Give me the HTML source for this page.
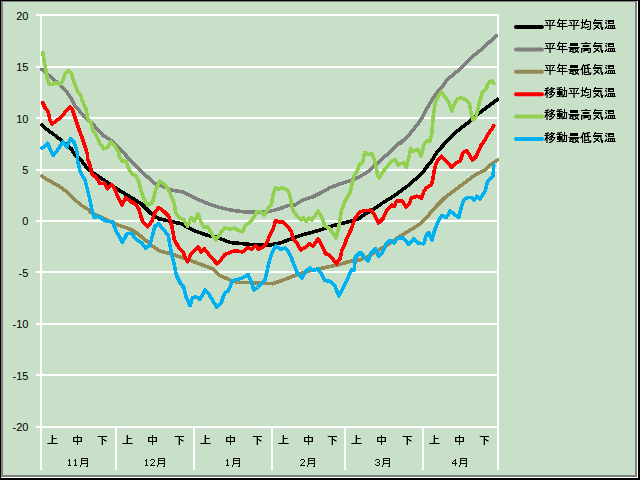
<!DOCTYPE html>
<html><head><meta charset="utf-8"><style>
html,body{margin:0;padding:0;}
body{width:640px;height:480px;overflow:hidden;position:relative;background:#C8DFC8;font-family:"Liberation Sans",sans-serif;}
#c{position:absolute;left:0;top:0;}
</style></head><body>
<svg id="c" width="640" height="480" viewBox="0 0 640 480" shape-rendering="auto">
<rect x="0" y="0" width="640" height="480" fill="#000"/>
<rect x="1" y="1" width="637" height="477" fill="#fff"/>
<rect x="1" y="1" width="636" height="476" fill="#808080"/>
<rect x="3" y="2" width="632" height="473" fill="#C8DFC8"/>
<rect x="36" y="14" width="463" height="2" fill="#fff"/>
<rect x="36" y="66" width="463" height="2" fill="#fff"/>
<rect x="36" y="117" width="463" height="2" fill="#fff"/>
<rect x="36" y="169" width="463" height="2" fill="#fff"/>
<rect x="36" y="220" width="463" height="2" fill="#fff"/>
<rect x="36" y="271" width="463" height="2" fill="#fff"/>
<rect x="36" y="323" width="463" height="2" fill="#fff"/>
<rect x="36" y="374" width="463" height="2" fill="#fff"/>
<rect x="36" y="426" width="463" height="2" fill="#fff"/>
<rect x="40" y="14" width="2" height="456" fill="#fff"/>
<rect x="497" y="14" width="2" height="414" fill="#fff"/>
<rect x="115" y="427" width="2" height="43" fill="#fff"/>
<rect x="193" y="427" width="2" height="43" fill="#fff"/>
<rect x="271" y="427" width="2" height="43" fill="#fff"/>
<rect x="344" y="427" width="2" height="43" fill="#fff"/>
<rect x="422" y="427" width="2" height="43" fill="#fff"/>
<rect x="497" y="427" width="2" height="43" fill="#fff"/>
<text x="28.4" y="20" text-anchor="end" font-family="Liberation Sans" font-size="11" fill="#000">20</text>
<text x="28.4" y="71" text-anchor="end" font-family="Liberation Sans" font-size="11" fill="#000">15</text>
<text x="28.4" y="123" text-anchor="end" font-family="Liberation Sans" font-size="11" fill="#000">10</text>
<text x="28.4" y="174" text-anchor="end" font-family="Liberation Sans" font-size="11" fill="#000">5</text>
<text x="28.4" y="225" text-anchor="end" font-family="Liberation Sans" font-size="11" fill="#000">0</text>
<text x="28.4" y="277" text-anchor="end" font-family="Liberation Sans" font-size="11" fill="#000">-5</text>
<text x="28.4" y="328" text-anchor="end" font-family="Liberation Sans" font-size="11" fill="#000">-10</text>
<text x="28.4" y="380" text-anchor="end" font-family="Liberation Sans" font-size="11" fill="#000">-15</text>
<text x="28.4" y="431" text-anchor="end" font-family="Liberation Sans" font-size="11" fill="#000">-20</text>
<path fill="#000" fill-opacity="1.0" shape-rendering="crispEdges" d="M52 435h1v1h-1zM52 436h1v1h-1zM52 437h1v1h-1zM52 438h4v1h-4zM52 439h1v1h-1zM52 440h1v1h-1zM52 441h1v1h-1zM52 442h1v1h-1zM48 443h9v1h-9z"/><path fill="#000" fill-opacity="0.6" shape-rendering="crispEdges" d="M56 438h1v1h-1zM47 443h1v1h-1zM57 443h1v1h-1z"/><path fill="#000" fill-opacity="0.3" shape-rendering="crispEdges" d="M51 435h1v1h-1zM51 436h1v1h-1zM51 437h1v1h-1zM51 438h1v1h-1zM51 439h1v1h-1zM51 440h1v1h-1zM51 441h1v1h-1zM51 442h1v1h-1z"/>
<path fill="#000" fill-opacity="1.0" shape-rendering="crispEdges" d="M77 435h1v1h-1zM77 436h1v1h-1zM73 437h9v1h-9zM73 438h1v1h-1zM77 438h1v1h-1zM81 438h1v1h-1zM73 439h1v1h-1zM77 439h1v1h-1zM81 439h1v1h-1zM73 440h1v1h-1zM77 440h1v1h-1zM81 440h1v1h-1zM73 441h9v1h-9zM77 442h1v1h-1zM77 443h1v1h-1zM77 444h1v1h-1z"/><path fill="#000" fill-opacity="0.3" shape-rendering="crispEdges" d="M74 438h1v1h-1zM80 438h1v1h-1zM74 439h1v1h-1zM80 439h1v1h-1zM74 440h1v1h-1zM80 440h1v1h-1z"/>
<path fill="#000" fill-opacity="1.0" shape-rendering="crispEdges" d="M98 436h9v1h-9zM102 437h1v1h-1zM102 438h1v1h-1zM102 439h2v1h-2zM102 440h1v1h-1zM104 440h2v1h-2zM102 441h1v1h-1zM102 442h1v1h-1zM102 443h1v1h-1zM102 444h1v1h-1z"/><path fill="#000" fill-opacity="0.6" shape-rendering="crispEdges" d="M104 439h1v1h-1z"/><path fill="#000" fill-opacity="0.3" shape-rendering="crispEdges" d="M97 436h1v1h-1zM101 437h1v1h-1zM101 438h1v1h-1zM101 439h1v1h-1zM101 440h1v1h-1zM106 440h1v1h-1zM101 441h1v1h-1zM105 441h2v1h-2zM101 442h1v1h-1zM101 443h1v1h-1zM101 444h1v1h-1z"/>
<path fill="#000" fill-opacity="0.92" shape-rendering="crispEdges" d="M69 459h1v1h-1zM68 460h2v1h-2zM69 461h1v1h-1zM69 462h1v1h-1zM69 463h1v1h-1zM69 464h1v1h-1zM68 465h3v1h-3zM75 459h1v1h-1zM74 460h2v1h-2zM75 461h1v1h-1zM75 462h1v1h-1zM75 463h1v1h-1zM75 464h1v1h-1zM74 465h3v1h-3zM81 458h7v1h-7zM81 459h1v1h-1zM87 459h1v1h-1zM81 460h7v1h-7zM81 461h1v1h-1zM87 461h1v1h-1zM81 462h1v1h-1zM87 462h1v1h-1zM81 463h7v1h-7zM81 464h1v1h-1zM87 464h1v1h-1zM80 465h1v1h-1zM87 465h1v1h-1zM80 466h1v1h-1zM86 466h2v1h-2z"/>
<path fill="#000" fill-opacity="1.0" shape-rendering="crispEdges" d="M127 435h1v1h-1zM127 436h1v1h-1zM127 437h1v1h-1zM127 438h4v1h-4zM127 439h1v1h-1zM127 440h1v1h-1zM127 441h1v1h-1zM127 442h1v1h-1zM123 443h9v1h-9z"/><path fill="#000" fill-opacity="0.6" shape-rendering="crispEdges" d="M131 438h1v1h-1zM122 443h1v1h-1zM132 443h1v1h-1z"/><path fill="#000" fill-opacity="0.3" shape-rendering="crispEdges" d="M126 435h1v1h-1zM126 436h1v1h-1zM126 437h1v1h-1zM126 438h1v1h-1zM126 439h1v1h-1zM126 440h1v1h-1zM126 441h1v1h-1zM126 442h1v1h-1z"/>
<path fill="#000" fill-opacity="1.0" shape-rendering="crispEdges" d="M152 435h1v1h-1zM152 436h1v1h-1zM148 437h9v1h-9zM148 438h1v1h-1zM152 438h1v1h-1zM156 438h1v1h-1zM148 439h1v1h-1zM152 439h1v1h-1zM156 439h1v1h-1zM148 440h1v1h-1zM152 440h1v1h-1zM156 440h1v1h-1zM148 441h9v1h-9zM152 442h1v1h-1zM152 443h1v1h-1zM152 444h1v1h-1z"/><path fill="#000" fill-opacity="0.3" shape-rendering="crispEdges" d="M149 438h1v1h-1zM155 438h1v1h-1zM149 439h1v1h-1zM155 439h1v1h-1zM149 440h1v1h-1zM155 440h1v1h-1z"/>
<path fill="#000" fill-opacity="1.0" shape-rendering="crispEdges" d="M175 436h9v1h-9zM179 437h1v1h-1zM179 438h1v1h-1zM179 439h2v1h-2zM179 440h1v1h-1zM181 440h2v1h-2zM179 441h1v1h-1zM179 442h1v1h-1zM179 443h1v1h-1zM179 444h1v1h-1z"/><path fill="#000" fill-opacity="0.6" shape-rendering="crispEdges" d="M181 439h1v1h-1z"/><path fill="#000" fill-opacity="0.3" shape-rendering="crispEdges" d="M174 436h1v1h-1zM178 437h1v1h-1zM178 438h1v1h-1zM178 439h1v1h-1zM178 440h1v1h-1zM183 440h1v1h-1zM178 441h1v1h-1zM182 441h2v1h-2zM178 442h1v1h-1zM178 443h1v1h-1zM178 444h1v1h-1z"/>
<path fill="#000" fill-opacity="0.92" shape-rendering="crispEdges" d="M146 459h1v1h-1zM145 460h2v1h-2zM146 461h1v1h-1zM146 462h1v1h-1zM146 463h1v1h-1zM146 464h1v1h-1zM145 465h3v1h-3zM151 459h3v1h-3zM150 460h1v1h-1zM154 460h1v1h-1zM154 461h1v1h-1zM153 462h1v1h-1zM152 463h1v1h-1zM151 464h1v1h-1zM150 465h5v1h-5zM158 458h7v1h-7zM158 459h1v1h-1zM164 459h1v1h-1zM158 460h7v1h-7zM158 461h1v1h-1zM164 461h1v1h-1zM158 462h1v1h-1zM164 462h1v1h-1zM158 463h7v1h-7zM158 464h1v1h-1zM164 464h1v1h-1zM157 465h1v1h-1zM164 465h1v1h-1zM157 466h1v1h-1zM163 466h2v1h-2z"/>
<path fill="#000" fill-opacity="1.0" shape-rendering="crispEdges" d="M205 435h1v1h-1zM205 436h1v1h-1zM205 437h1v1h-1zM205 438h4v1h-4zM205 439h1v1h-1zM205 440h1v1h-1zM205 441h1v1h-1zM205 442h1v1h-1zM201 443h9v1h-9z"/><path fill="#000" fill-opacity="0.6" shape-rendering="crispEdges" d="M209 438h1v1h-1zM200 443h1v1h-1zM210 443h1v1h-1z"/><path fill="#000" fill-opacity="0.3" shape-rendering="crispEdges" d="M204 435h1v1h-1zM204 436h1v1h-1zM204 437h1v1h-1zM204 438h1v1h-1zM204 439h1v1h-1zM204 440h1v1h-1zM204 441h1v1h-1zM204 442h1v1h-1z"/>
<path fill="#000" fill-opacity="1.0" shape-rendering="crispEdges" d="M230 435h1v1h-1zM230 436h1v1h-1zM226 437h9v1h-9zM226 438h1v1h-1zM230 438h1v1h-1zM234 438h1v1h-1zM226 439h1v1h-1zM230 439h1v1h-1zM234 439h1v1h-1zM226 440h1v1h-1zM230 440h1v1h-1zM234 440h1v1h-1zM226 441h9v1h-9zM230 442h1v1h-1zM230 443h1v1h-1zM230 444h1v1h-1z"/><path fill="#000" fill-opacity="0.3" shape-rendering="crispEdges" d="M227 438h1v1h-1zM233 438h1v1h-1zM227 439h1v1h-1zM233 439h1v1h-1zM227 440h1v1h-1zM233 440h1v1h-1z"/>
<path fill="#000" fill-opacity="1.0" shape-rendering="crispEdges" d="M253 436h9v1h-9zM257 437h1v1h-1zM257 438h1v1h-1zM257 439h2v1h-2zM257 440h1v1h-1zM259 440h2v1h-2zM257 441h1v1h-1zM257 442h1v1h-1zM257 443h1v1h-1zM257 444h1v1h-1z"/><path fill="#000" fill-opacity="0.6" shape-rendering="crispEdges" d="M259 439h1v1h-1z"/><path fill="#000" fill-opacity="0.3" shape-rendering="crispEdges" d="M252 436h1v1h-1zM256 437h1v1h-1zM256 438h1v1h-1zM256 439h1v1h-1zM256 440h1v1h-1zM261 440h1v1h-1zM256 441h1v1h-1zM260 441h2v1h-2zM256 442h1v1h-1zM256 443h1v1h-1zM256 444h1v1h-1z"/>
<path fill="#000" fill-opacity="0.92" shape-rendering="crispEdges" d="M227 459h1v1h-1zM226 460h2v1h-2zM227 461h1v1h-1zM227 462h1v1h-1zM227 463h1v1h-1zM227 464h1v1h-1zM226 465h3v1h-3zM233 458h7v1h-7zM233 459h1v1h-1zM239 459h1v1h-1zM233 460h7v1h-7zM233 461h1v1h-1zM239 461h1v1h-1zM233 462h1v1h-1zM239 462h1v1h-1zM233 463h7v1h-7zM233 464h1v1h-1zM239 464h1v1h-1zM232 465h1v1h-1zM239 465h1v1h-1zM232 466h1v1h-1zM238 466h2v1h-2z"/>
<path fill="#000" fill-opacity="1.0" shape-rendering="crispEdges" d="M283 435h1v1h-1zM283 436h1v1h-1zM283 437h1v1h-1zM283 438h4v1h-4zM283 439h1v1h-1zM283 440h1v1h-1zM283 441h1v1h-1zM283 442h1v1h-1zM279 443h9v1h-9z"/><path fill="#000" fill-opacity="0.6" shape-rendering="crispEdges" d="M287 438h1v1h-1zM278 443h1v1h-1zM288 443h1v1h-1z"/><path fill="#000" fill-opacity="0.3" shape-rendering="crispEdges" d="M282 435h1v1h-1zM282 436h1v1h-1zM282 437h1v1h-1zM282 438h1v1h-1zM282 439h1v1h-1zM282 440h1v1h-1zM282 441h1v1h-1zM282 442h1v1h-1z"/>
<path fill="#000" fill-opacity="1.0" shape-rendering="crispEdges" d="M308 435h1v1h-1zM308 436h1v1h-1zM304 437h9v1h-9zM304 438h1v1h-1zM308 438h1v1h-1zM312 438h1v1h-1zM304 439h1v1h-1zM308 439h1v1h-1zM312 439h1v1h-1zM304 440h1v1h-1zM308 440h1v1h-1zM312 440h1v1h-1zM304 441h9v1h-9zM308 442h1v1h-1zM308 443h1v1h-1zM308 444h1v1h-1z"/><path fill="#000" fill-opacity="0.3" shape-rendering="crispEdges" d="M305 438h1v1h-1zM311 438h1v1h-1zM305 439h1v1h-1zM311 439h1v1h-1zM305 440h1v1h-1zM311 440h1v1h-1z"/>
<path fill="#000" fill-opacity="1.0" shape-rendering="crispEdges" d="M328 436h9v1h-9zM332 437h1v1h-1zM332 438h1v1h-1zM332 439h2v1h-2zM332 440h1v1h-1zM334 440h2v1h-2zM332 441h1v1h-1zM332 442h1v1h-1zM332 443h1v1h-1zM332 444h1v1h-1z"/><path fill="#000" fill-opacity="0.6" shape-rendering="crispEdges" d="M334 439h1v1h-1z"/><path fill="#000" fill-opacity="0.3" shape-rendering="crispEdges" d="M327 436h1v1h-1zM331 437h1v1h-1zM331 438h1v1h-1zM331 439h1v1h-1zM331 440h1v1h-1zM336 440h1v1h-1zM331 441h1v1h-1zM335 441h2v1h-2zM331 442h1v1h-1zM331 443h1v1h-1zM331 444h1v1h-1z"/>
<path fill="#000" fill-opacity="0.92" shape-rendering="crispEdges" d="M301 459h3v1h-3zM300 460h1v1h-1zM304 460h1v1h-1zM304 461h1v1h-1zM303 462h1v1h-1zM302 463h1v1h-1zM301 464h1v1h-1zM300 465h5v1h-5zM308 458h7v1h-7zM308 459h1v1h-1zM314 459h1v1h-1zM308 460h7v1h-7zM308 461h1v1h-1zM314 461h1v1h-1zM308 462h1v1h-1zM314 462h1v1h-1zM308 463h7v1h-7zM308 464h1v1h-1zM314 464h1v1h-1zM307 465h1v1h-1zM314 465h1v1h-1zM307 466h1v1h-1zM313 466h2v1h-2z"/>
<path fill="#000" fill-opacity="1.0" shape-rendering="crispEdges" d="M356 435h1v1h-1zM356 436h1v1h-1zM356 437h1v1h-1zM356 438h4v1h-4zM356 439h1v1h-1zM356 440h1v1h-1zM356 441h1v1h-1zM356 442h1v1h-1zM352 443h9v1h-9z"/><path fill="#000" fill-opacity="0.6" shape-rendering="crispEdges" d="M360 438h1v1h-1zM351 443h1v1h-1zM361 443h1v1h-1z"/><path fill="#000" fill-opacity="0.3" shape-rendering="crispEdges" d="M355 435h1v1h-1zM355 436h1v1h-1zM355 437h1v1h-1zM355 438h1v1h-1zM355 439h1v1h-1zM355 440h1v1h-1zM355 441h1v1h-1zM355 442h1v1h-1z"/>
<path fill="#000" fill-opacity="1.0" shape-rendering="crispEdges" d="M381 435h1v1h-1zM381 436h1v1h-1zM377 437h9v1h-9zM377 438h1v1h-1zM381 438h1v1h-1zM385 438h1v1h-1zM377 439h1v1h-1zM381 439h1v1h-1zM385 439h1v1h-1zM377 440h1v1h-1zM381 440h1v1h-1zM385 440h1v1h-1zM377 441h9v1h-9zM381 442h1v1h-1zM381 443h1v1h-1zM381 444h1v1h-1z"/><path fill="#000" fill-opacity="0.3" shape-rendering="crispEdges" d="M378 438h1v1h-1zM384 438h1v1h-1zM378 439h1v1h-1zM384 439h1v1h-1zM378 440h1v1h-1zM384 440h1v1h-1z"/>
<path fill="#000" fill-opacity="1.0" shape-rendering="crispEdges" d="M403 436h9v1h-9zM407 437h1v1h-1zM407 438h1v1h-1zM407 439h2v1h-2zM407 440h1v1h-1zM409 440h2v1h-2zM407 441h1v1h-1zM407 442h1v1h-1zM407 443h1v1h-1zM407 444h1v1h-1z"/><path fill="#000" fill-opacity="0.6" shape-rendering="crispEdges" d="M409 439h1v1h-1z"/><path fill="#000" fill-opacity="0.3" shape-rendering="crispEdges" d="M402 436h1v1h-1zM406 437h1v1h-1zM406 438h1v1h-1zM406 439h1v1h-1zM406 440h1v1h-1zM411 440h1v1h-1zM406 441h1v1h-1zM410 441h2v1h-2zM406 442h1v1h-1zM406 443h1v1h-1zM406 444h1v1h-1z"/>
<path fill="#000" fill-opacity="0.92" shape-rendering="crispEdges" d="M376 459h3v1h-3zM375 460h1v1h-1zM379 460h1v1h-1zM379 461h1v1h-1zM377 462h2v1h-2zM379 463h1v1h-1zM375 464h1v1h-1zM379 464h1v1h-1zM376 465h3v1h-3zM383 458h7v1h-7zM383 459h1v1h-1zM389 459h1v1h-1zM383 460h7v1h-7zM383 461h1v1h-1zM389 461h1v1h-1zM383 462h1v1h-1zM389 462h1v1h-1zM383 463h7v1h-7zM383 464h1v1h-1zM389 464h1v1h-1zM382 465h1v1h-1zM389 465h1v1h-1zM382 466h1v1h-1zM388 466h2v1h-2z"/>
<path fill="#000" fill-opacity="1.0" shape-rendering="crispEdges" d="M434 435h1v1h-1zM434 436h1v1h-1zM434 437h1v1h-1zM434 438h4v1h-4zM434 439h1v1h-1zM434 440h1v1h-1zM434 441h1v1h-1zM434 442h1v1h-1zM430 443h9v1h-9z"/><path fill="#000" fill-opacity="0.6" shape-rendering="crispEdges" d="M438 438h1v1h-1zM429 443h1v1h-1zM439 443h1v1h-1z"/><path fill="#000" fill-opacity="0.3" shape-rendering="crispEdges" d="M433 435h1v1h-1zM433 436h1v1h-1zM433 437h1v1h-1zM433 438h1v1h-1zM433 439h1v1h-1zM433 440h1v1h-1zM433 441h1v1h-1zM433 442h1v1h-1z"/>
<path fill="#000" fill-opacity="1.0" shape-rendering="crispEdges" d="M459 435h1v1h-1zM459 436h1v1h-1zM455 437h9v1h-9zM455 438h1v1h-1zM459 438h1v1h-1zM463 438h1v1h-1zM455 439h1v1h-1zM459 439h1v1h-1zM463 439h1v1h-1zM455 440h1v1h-1zM459 440h1v1h-1zM463 440h1v1h-1zM455 441h9v1h-9zM459 442h1v1h-1zM459 443h1v1h-1zM459 444h1v1h-1z"/><path fill="#000" fill-opacity="0.3" shape-rendering="crispEdges" d="M456 438h1v1h-1zM462 438h1v1h-1zM456 439h1v1h-1zM462 439h1v1h-1zM456 440h1v1h-1zM462 440h1v1h-1z"/>
<path fill="#000" fill-opacity="1.0" shape-rendering="crispEdges" d="M480 436h9v1h-9zM484 437h1v1h-1zM484 438h1v1h-1zM484 439h2v1h-2zM484 440h1v1h-1zM486 440h2v1h-2zM484 441h1v1h-1zM484 442h1v1h-1zM484 443h1v1h-1zM484 444h1v1h-1z"/><path fill="#000" fill-opacity="0.6" shape-rendering="crispEdges" d="M486 439h1v1h-1z"/><path fill="#000" fill-opacity="0.3" shape-rendering="crispEdges" d="M479 436h1v1h-1zM483 437h1v1h-1zM483 438h1v1h-1zM483 439h1v1h-1zM483 440h1v1h-1zM488 440h1v1h-1zM483 441h1v1h-1zM487 441h2v1h-2zM483 442h1v1h-1zM483 443h1v1h-1zM483 444h1v1h-1z"/>
<path fill="#000" fill-opacity="0.92" shape-rendering="crispEdges" d="M455 459h1v1h-1zM454 460h2v1h-2zM453 461h1v1h-1zM455 461h1v1h-1zM452 462h1v1h-1zM455 462h1v1h-1zM452 463h5v1h-5zM455 464h1v1h-1zM455 465h1v1h-1zM460 458h7v1h-7zM460 459h1v1h-1zM466 459h1v1h-1zM460 460h7v1h-7zM460 461h1v1h-1zM466 461h1v1h-1zM460 462h1v1h-1zM466 462h1v1h-1zM460 463h7v1h-7zM460 464h1v1h-1zM466 464h1v1h-1zM459 465h1v1h-1zM466 465h1v1h-1zM459 466h1v1h-1zM465 466h2v1h-2z"/>
<polyline points="41.90,176.00 47.50,179.75 58.75,186.00 67.50,192.25 76.25,201.00 82.50,206.00 88.75,209.75 90.00,212.25 101.25,217.25 117.50,224.75 132.50,230.00 142.50,237.50 152.50,246.25 160.00,251.25 171.25,253.75 181.25,257.50 192.50,261.25 202.50,265.00 212.50,268.75 220.00,275.60 230.00,280.00 237.50,282.50 250.00,282.50 260.00,283.10 272.50,283.75 285.00,279.40 297.50,274.40 310.00,270.60 322.50,268.10 340.00,264.40 350.00,261.25 360.00,260.00 367.50,256.90 378.75,250.00 390.00,243.10 400.00,236.25 412.50,228.75 420.00,223.75 427.50,216.25 436.25,206.25 445.00,197.50 455.00,190.00 465.00,182.50 475.00,175.00 485.00,170.00 490.00,165.00 497.50,160.00" fill="none" stroke="#948A54" stroke-width="3.6" stroke-linejoin="round" stroke-linecap="round" shape-rendering="crispEdges"/>
<polyline points="41.90,69.40 51.25,77.50 60.00,85.00 66.25,91.25 71.25,98.75 75.00,105.60 83.75,116.25 92.50,123.75 102.50,135.00 111.25,140.60 118.75,147.50 131.25,161.25 142.50,172.50 155.00,183.75 162.50,186.25 171.25,190.00 182.50,191.90 193.75,197.50 205.00,202.50 217.50,206.90 230.00,210.00 245.00,211.90 257.50,211.90 267.50,211.90 277.50,209.40 290.00,205.00 295.00,205.00 302.50,200.00 312.50,197.00 321.90,192.30 329.40,188.00 338.75,184.30 349.40,181.00 358.75,177.30 368.10,171.60 377.50,163.20 386.90,154.70 400.00,142.50 400.00,143.50 410.00,133.75 420.00,121.25 427.50,107.50 435.00,95.00 442.50,86.25 447.50,79.40 458.75,70.00 471.25,57.50 483.75,47.50 496.25,35.60" fill="none" stroke="#808080" stroke-width="3.6" stroke-linejoin="round" stroke-linecap="round" shape-rendering="crispEdges"/>
<polyline points="41.90,125.00 47.50,130.00 56.25,136.25 63.75,142.50 71.25,148.75 75.00,155.00 80.00,158.75 87.50,168.75 96.25,175.00 107.50,182.50 118.75,190.00 131.25,197.50 141.25,203.75 151.25,213.75 158.75,218.75 167.50,220.60 181.25,223.75 192.50,230.00 206.25,235.00 217.50,237.50 230.00,242.50 243.75,243.75 256.25,245.00 268.75,245.25 280.00,243.00 290.00,239.40 299.40,235.70 308.75,233.20 318.10,230.60 332.20,225.90 350.00,221.30 358.00,219.20 363.40,215.20 372.80,209.60 382.20,203.20 394.40,195.60 410.00,184.20 415.00,179.50 420.00,175.20 423.30,171.70 426.70,166.90 431.70,160.80 437.50,151.25 448.75,139.50 451.25,136.25 460.00,128.75 470.00,121.25 480.00,112.50 490.00,105.00 497.50,99.40" fill="none" stroke="#000000" stroke-width="3.6" stroke-linejoin="round" stroke-linecap="round" shape-rendering="crispEdges"/>
<polyline points="41.90,148.10 45.00,146.25 47.50,143.10 50.00,148.75 53.10,155.50 57.50,150.00 63.10,141.90 66.90,146.90 70.60,138.75 73.75,141.90 76.25,148.75 77.50,155.00 77.50,160.00 80.00,171.25 85.00,180.00 87.50,190.00 90.00,200.00 91.90,210.00 94.40,217.50 97.50,216.25 101.90,218.75 106.25,221.25 112.50,221.90 116.25,231.25 122.50,242.50 126.90,233.75 131.25,233.10 136.25,239.40 141.25,242.50 145.60,248.10 150.00,245.00 152.50,235.00 155.00,226.25 158.75,223.75 163.75,230.00 168.10,235.00 171.25,252.50 174.40,265.00 176.25,275.00 180.00,282.50 183.75,287.50 186.25,297.50 190.00,305.60 192.50,297.50 196.25,296.90 200.00,299.40 205.00,290.00 208.75,293.75 212.50,300.00 216.90,307.50 221.25,302.50 224.40,293.75 228.75,290.00 232.50,280.60 237.50,279.40 243.75,277.50 248.10,274.40 251.90,283.75 253.75,290.00 257.50,287.50 260.00,285.00 265.00,280.00 269.40,261.00 272.50,251.60 275.90,246.00 280.60,249.40 285.00,248.20 288.10,251.00 291.25,257.25 293.75,264.10 297.50,273.75 301.90,278.10 306.25,270.60 310.00,268.10 313.75,270.60 317.50,268.75 321.25,273.75 325.00,280.60 330.00,281.25 335.00,286.25 338.75,296.00 342.50,288.75 347.50,278.75 351.25,270.00 354.40,270.00 355.00,257.50 360.00,252.50 363.75,256.25 368.10,261.25 371.25,252.50 375.60,248.75 378.75,256.25 382.50,252.50 386.25,243.75 390.00,240.60 393.75,243.10 397.50,238.75 402.50,237.50 408.75,244.40 413.75,238.75 418.10,243.10 423.75,243.75 426.25,235.00 428.75,232.50 431.90,240.00 435.00,229.40 438.75,220.00 441.90,215.60 446.25,217.50 450.00,211.25 453.75,213.75 458.75,217.50 461.25,207.50 463.75,200.00 468.10,197.50 471.25,197.50 474.40,200.00 476.90,196.25 480.00,198.75 485.00,191.25 487.50,181.25 490.60,178.75 493.10,176.25 493.75,165.00" fill="none" stroke="#00B0F0" stroke-width="3.6" stroke-linejoin="round" stroke-linecap="round" shape-rendering="crispEdges"/>
<polyline points="42.75,52.50 43.75,58.75 45.60,68.75 47.50,80.00 49.40,84.40 52.50,84.40 56.25,82.50 59.40,84.40 62.50,81.25 65.00,73.75 68.10,70.60 71.25,73.10 73.75,81.25 77.50,91.25 81.25,96.25 81.90,100.00 83.10,102.50 86.25,110.00 87.50,118.10 91.25,123.75 92.50,130.00 96.25,135.00 100.00,143.75 103.75,148.75 107.50,147.50 110.60,141.90 115.00,146.25 118.75,152.50 119.40,157.50 122.50,161.25 126.25,161.25 128.10,167.50 131.90,173.75 135.60,175.60 138.75,181.25 141.25,191.25 143.75,198.75 147.50,205.00 152.50,202.50 155.60,190.00 160.00,181.25 165.00,185.00 168.75,190.00 171.25,196.25 174.40,203.75 175.60,212.50 178.75,217.50 183.75,220.00 187.50,226.25 191.25,217.50 194.40,221.25 198.10,213.75 201.25,222.50 203.75,227.50 207.50,226.90 211.25,232.50 215.60,240.00 220.00,233.75 225.00,227.50 230.00,229.40 233.75,228.10 237.50,230.00 242.50,231.90 245.60,225.00 250.00,222.50 253.75,217.50 256.90,211.25 261.25,211.90 264.40,215.00 267.50,208.75 271.25,205.00 273.10,195.00 275.60,187.50 278.75,189.40 281.90,187.50 286.00,189.40 288.75,192.20 290.60,198.75 291.60,206.25 293.40,211.00 296.25,215.00 300.60,220.00 303.10,217.50 306.25,221.25 308.75,218.10 311.90,220.00 318.10,211.25 321.90,217.50 325.00,226.25 328.75,227.50 332.50,232.50 336.25,238.10 338.75,227.50 341.25,211.25 345.00,201.25 350.00,192.50 352.20,184.00 354.00,175.60 356.90,171.90 359.70,164.40 362.50,162.50 364.80,152.50 368.10,154.50 371.90,153.50 373.75,158.00 375.60,164.40 377.50,175.00 379.40,178.00 382.20,172.80 385.90,168.10 388.75,164.40 391.60,161.10 395.30,159.70 398.10,165.00 403.75,162.50 406.25,167.50 408.75,157.50 410.60,148.75 413.75,151.25 417.50,149.40 421.25,156.25 423.75,145.00 426.25,141.25 430.00,141.25 431.90,132.50 433.10,117.50 435.00,103.75 437.50,97.50 441.25,91.90 445.00,96.90 448.75,102.50 451.90,111.25 455.00,102.50 457.50,98.75 461.25,97.50 466.25,100.00 469.40,103.75 471.25,113.75 473.10,120.00 476.25,116.25 480.00,100.00 482.50,92.00 486.00,89.50 487.50,85.00 490.00,81.50 492.00,80.80 494.00,83.50" fill="none" stroke="#92D050" stroke-width="3.6" stroke-linejoin="round" stroke-linecap="round" shape-rendering="crispEdges"/>
<polyline points="42.50,102.50 45.00,107.50 48.10,111.90 50.00,120.00 51.90,124.40 56.25,120.60 60.00,118.10 65.00,112.50 70.00,106.90 72.50,110.00 75.00,117.50 78.75,128.75 82.50,138.75 86.25,150.00 87.50,155.00 87.50,158.75 90.00,165.00 91.90,173.75 96.25,177.50 100.00,183.75 104.40,183.10 107.50,188.75 111.90,184.40 115.00,190.00 118.75,198.75 121.90,205.00 125.60,197.50 130.00,201.25 135.00,203.75 138.75,208.75 142.50,221.25 147.50,226.90 151.90,221.25 155.00,212.50 158.75,207.50 163.75,211.25 168.75,216.25 171.90,226.25 174.40,240.00 178.75,247.50 183.10,252.50 187.50,261.90 191.25,253.75 194.40,250.60 198.10,246.90 201.25,251.90 204.40,248.75 209.40,255.00 213.75,260.00 216.90,263.75 221.25,259.40 225.00,254.40 230.00,252.50 235.00,250.60 242.50,251.90 248.10,247.50 251.90,249.40 255.60,245.60 258.75,249.40 263.75,246.25 266.90,242.50 270.00,235.00 273.10,229.00 275.60,220.60 278.75,221.90 282.50,221.90 287.50,226.25 291.25,231.25 293.10,238.75 297.50,243.75 300.60,250.00 305.00,247.50 309.40,243.75 313.10,246.25 318.10,238.75 322.50,246.90 325.60,253.75 328.75,254.40 332.50,258.75 336.25,263.75 340.00,258.75 341.90,250.00 345.00,243.75 346.60,238.60 351.25,229.00 355.00,218.20 359.70,212.20 364.40,210.60 370.90,210.20 373.75,213.40 378.40,223.10 383.10,218.40 386.90,209.70 391.60,205.00 394.40,206.60 396.25,201.20 399.00,200.80 402.50,201.25 406.25,206.90 410.00,202.50 411.25,198.10 416.70,196.20 421.50,198.00 423.75,191.70 426.70,187.50 431.20,185.00 432.90,179.20 434.20,170.80 435.80,164.20 438.30,160.00 441.25,156.25 446.25,161.25 451.90,167.50 456.25,163.10 460.00,161.25 463.10,152.50 466.90,150.60 470.00,156.25 472.50,160.00 476.25,156.25 481.25,145.00 485.00,140.00 488.10,133.75 491.25,130.00 493.75,125.60" fill="none" stroke="#FF0000" stroke-width="3.6" stroke-linejoin="round" stroke-linecap="round" shape-rendering="crispEdges"/>
<line x1="516" y1="27.0" x2="542" y2="27.0" stroke="#000000" stroke-width="4" stroke-linecap="round"/>
<path fill="#000" fill-opacity="1.0" shape-rendering="crispEdges" d="M559 19h1v1h-1zM582 19h1v1h-1zM586 19h1v1h-1zM595 19h1v1h-1zM545 20h10v1h-10zM558 20h9v1h-9zM569 20h10v1h-10zM582 20h1v1h-1zM586 20h1v1h-1zM594 20h8v1h-8zM606 20h1v1h-1zM608 20h6v1h-6zM558 21h1v1h-1zM562 21h1v1h-1zM582 21h1v1h-1zM585 21h6v1h-6zM594 21h1v1h-1zM608 21h6v1h-6zM546 22h1v1h-1zM553 22h1v1h-1zM557 22h2v1h-2zM562 22h1v1h-1zM570 22h1v1h-1zM577 22h1v1h-1zM581 22h5v1h-5zM590 22h1v1h-1zM593 22h1v1h-1zM595 22h6v1h-6zM605 22h1v1h-1zM608 22h1v1h-1zM613 22h1v1h-1zM547 23h1v1h-1zM552 23h1v1h-1zM559 23h7v1h-7zM571 23h1v1h-1zM576 23h1v1h-1zM582 23h1v1h-1zM584 23h1v1h-1zM590 23h1v1h-1zM593 23h8v1h-8zM606 23h1v1h-1zM608 23h6v1h-6zM559 24h1v1h-1zM562 24h1v1h-1zM582 24h1v1h-1zM584 24h1v1h-1zM586 24h3v1h-3zM590 24h1v1h-1zM545 25h10v1h-10zM559 25h1v1h-1zM562 25h1v1h-1zM569 25h10v1h-10zM582 25h1v1h-1zM590 25h1v1h-1zM594 25h2v1h-2zM597 25h1v1h-1zM608 25h7v1h-7zM557 26h10v1h-10zM582 26h1v1h-1zM588 26h1v1h-1zM590 26h1v1h-1zM596 26h2v1h-2zM601 26h1v1h-1zM606 26h1v1h-1zM608 26h1v1h-1zM610 26h1v1h-1zM612 26h1v1h-1zM614 26h1v1h-1zM562 27h1v1h-1zM582 27h2v1h-2zM585 27h3v1h-3zM590 27h1v1h-1zM596 27h3v1h-3zM601 27h2v1h-2zM605 27h2v1h-2zM608 27h1v1h-1zM610 27h1v1h-1zM612 27h1v1h-1zM614 27h1v1h-1zM562 28h1v1h-1zM581 28h1v1h-1zM590 28h1v1h-1zM594 28h2v1h-2zM599 28h1v1h-1zM601 28h2v1h-2zM605 28h1v1h-1zM607 28h8v1h-8zM562 29h1v1h-1zM587 29h3v1h-3zM602 29h1v1h-1z"/><path fill="#000" fill-opacity="0.6" shape-rendering="crispEdges" d="M585 20h1v1h-1zM602 20h1v1h-1zM605 20h1v1h-1zM549 21h2v1h-2zM553 21h1v1h-1zM573 21h2v1h-2zM577 21h1v1h-1zM547 22h1v1h-1zM549 22h2v1h-2zM552 22h1v1h-1zM571 22h1v1h-1zM573 22h2v1h-2zM576 22h1v1h-1zM594 22h1v1h-1zM601 22h1v1h-1zM609 22h1v1h-1zM549 23h2v1h-2zM557 23h1v1h-1zM573 23h2v1h-2zM585 23h1v1h-1zM601 23h1v1h-1zM547 24h1v1h-1zM549 24h2v1h-2zM552 24h1v1h-1zM571 24h1v1h-1zM573 24h2v1h-2zM576 24h1v1h-1zM585 24h1v1h-1zM598 24h1v1h-1zM600 24h2v1h-2zM544 25h1v1h-1zM555 25h1v1h-1zM568 25h1v1h-1zM579 25h1v1h-1zM598 25h1v1h-1zM600 25h2v1h-2zM549 26h2v1h-2zM567 26h1v1h-1zM573 26h2v1h-2zM584 26h1v1h-1zM600 26h1v1h-1zM549 27h2v1h-2zM573 27h2v1h-2zM581 27h1v1h-1zM584 27h1v1h-1zM595 27h1v1h-1zM549 28h2v1h-2zM573 28h2v1h-2zM585 28h1v1h-1zM598 28h1v1h-1zM615 28h1v1h-1zM549 29h2v1h-2zM573 29h2v1h-2zM593 29h2v1h-2zM601 29h1v1h-1z"/><path fill="#000" fill-opacity="0.3" shape-rendering="crispEdges" d="M559 18h1v1h-1zM558 19h1v1h-1zM594 19h1v1h-1zM607 20h1v1h-1zM546 21h1v1h-1zM570 21h1v1h-1zM606 21h2v1h-2zM580 22h1v1h-1zM606 22h1v1h-1zM546 23h1v1h-1zM558 23h1v1h-1zM566 23h1v1h-1zM570 23h1v1h-1zM605 23h1v1h-1zM558 24h1v1h-1zM606 24h1v1h-1zM558 25h1v1h-1zM596 25h1v1h-1zM606 25h1v1h-1zM556 26h1v1h-1zM583 26h1v1h-1zM587 26h1v1h-1zM589 26h1v1h-1zM595 26h1v1h-1zM607 26h1v1h-1zM611 26h1v1h-1zM613 26h1v1h-1zM588 27h1v1h-1zM600 27h1v1h-1zM603 27h1v1h-1zM611 27h1v1h-1zM613 27h1v1h-1zM580 28h1v1h-1zM582 28h1v1h-1zM589 28h1v1h-1zM593 28h1v1h-1zM604 28h1v1h-1zM590 29h1v1h-1z"/>
<line x1="516" y1="49.4" x2="542" y2="49.4" stroke="#808080" stroke-width="4" stroke-linecap="round"/>
<path fill="#000" fill-opacity="1.0" shape-rendering="crispEdges" d="M559 42h1v1h-1zM595 42h1v1h-1zM545 43h10v1h-10zM558 43h9v1h-9zM570 43h8v1h-8zM581 43h10v1h-10zM594 43h8v1h-8zM606 43h1v1h-1zM608 43h6v1h-6zM558 44h1v1h-1zM562 44h1v1h-1zM570 44h8v1h-8zM594 44h1v1h-1zM608 44h6v1h-6zM546 45h1v1h-1zM553 45h1v1h-1zM557 45h2v1h-2zM562 45h1v1h-1zM570 45h8v1h-8zM583 45h6v1h-6zM593 45h1v1h-1zM595 45h6v1h-6zM605 45h1v1h-1zM608 45h1v1h-1zM613 45h1v1h-1zM547 46h1v1h-1zM552 46h1v1h-1zM559 46h7v1h-7zM583 46h6v1h-6zM593 46h8v1h-8zM606 46h1v1h-1zM608 46h6v1h-6zM559 47h1v1h-1zM562 47h1v1h-1zM569 47h10v1h-10zM545 48h10v1h-10zM559 48h1v1h-1zM562 48h1v1h-1zM570 48h8v1h-8zM581 48h10v1h-10zM594 48h2v1h-2zM597 48h1v1h-1zM608 48h7v1h-7zM557 49h10v1h-10zM570 49h3v1h-3zM575 49h1v1h-1zM577 49h1v1h-1zM581 49h1v1h-1zM584 49h4v1h-4zM590 49h1v1h-1zM596 49h2v1h-2zM601 49h1v1h-1zM606 49h1v1h-1zM608 49h1v1h-1zM610 49h1v1h-1zM612 49h1v1h-1zM614 49h1v1h-1zM562 50h1v1h-1zM570 50h1v1h-1zM576 50h1v1h-1zM581 50h1v1h-1zM584 50h4v1h-4zM590 50h1v1h-1zM596 50h3v1h-3zM601 50h2v1h-2zM605 50h2v1h-2zM608 50h1v1h-1zM610 50h1v1h-1zM612 50h1v1h-1zM614 50h1v1h-1zM562 51h1v1h-1zM569 51h4v1h-4zM575 51h3v1h-3zM581 51h1v1h-1zM590 51h1v1h-1zM594 51h2v1h-2zM599 51h1v1h-1zM601 51h2v1h-2zM605 51h1v1h-1zM607 51h8v1h-8zM562 52h1v1h-1zM573 52h2v1h-2zM578 52h1v1h-1zM581 52h1v1h-1zM588 52h2v1h-2zM602 52h1v1h-1z"/><path fill="#000" fill-opacity="0.6" shape-rendering="crispEdges" d="M585 42h2v1h-2zM602 43h1v1h-1zM605 43h1v1h-1zM549 44h2v1h-2zM553 44h1v1h-1zM547 45h1v1h-1zM549 45h2v1h-2zM552 45h1v1h-1zM594 45h1v1h-1zM601 45h1v1h-1zM609 45h1v1h-1zM549 46h2v1h-2zM557 46h1v1h-1zM601 46h1v1h-1zM547 47h1v1h-1zM549 47h2v1h-2zM552 47h1v1h-1zM568 47h1v1h-1zM579 47h1v1h-1zM598 47h1v1h-1zM600 47h2v1h-2zM544 48h1v1h-1zM555 48h1v1h-1zM578 48h1v1h-1zM598 48h1v1h-1zM600 48h2v1h-2zM549 49h2v1h-2zM567 49h1v1h-1zM573 49h1v1h-1zM583 49h1v1h-1zM588 49h1v1h-1zM600 49h1v1h-1zM549 50h2v1h-2zM572 50h2v1h-2zM575 50h1v1h-1zM577 50h1v1h-1zM583 50h1v1h-1zM588 50h1v1h-1zM595 50h1v1h-1zM549 51h2v1h-2zM573 51h1v1h-1zM578 51h1v1h-1zM583 51h2v1h-2zM598 51h1v1h-1zM615 51h1v1h-1zM549 52h2v1h-2zM572 52h1v1h-1zM575 52h1v1h-1zM590 52h1v1h-1zM593 52h2v1h-2zM601 52h1v1h-1z"/><path fill="#000" fill-opacity="0.3" shape-rendering="crispEdges" d="M559 41h1v1h-1zM558 42h1v1h-1zM594 42h1v1h-1zM607 43h1v1h-1zM546 44h1v1h-1zM606 44h2v1h-2zM582 45h1v1h-1zM589 45h1v1h-1zM606 45h1v1h-1zM546 46h1v1h-1zM558 46h1v1h-1zM566 46h1v1h-1zM582 46h1v1h-1zM589 46h1v1h-1zM605 46h1v1h-1zM558 47h1v1h-1zM606 47h1v1h-1zM558 48h1v1h-1zM569 48h1v1h-1zM596 48h1v1h-1zM606 48h1v1h-1zM556 49h1v1h-1zM569 49h1v1h-1zM574 49h1v1h-1zM582 49h1v1h-1zM589 49h1v1h-1zM595 49h1v1h-1zM607 49h1v1h-1zM611 49h1v1h-1zM613 49h1v1h-1zM569 50h1v1h-1zM582 50h1v1h-1zM589 50h1v1h-1zM600 50h1v1h-1zM603 50h1v1h-1zM611 50h1v1h-1zM613 50h1v1h-1zM582 51h1v1h-1zM588 51h2v1h-2zM593 51h1v1h-1zM604 51h1v1h-1zM577 52h1v1h-1zM582 52h1v1h-1z"/>
<line x1="516" y1="71.8" x2="542" y2="71.8" stroke="#948A54" stroke-width="4" stroke-linecap="round"/>
<path fill="#000" fill-opacity="1.0" shape-rendering="crispEdges" d="M559 64h1v1h-1zM583 64h1v1h-1zM588 64h2v1h-2zM595 64h1v1h-1zM545 65h10v1h-10zM558 65h9v1h-9zM570 65h8v1h-8zM583 65h5v1h-5zM594 65h8v1h-8zM606 65h1v1h-1zM608 65h6v1h-6zM558 66h1v1h-1zM562 66h1v1h-1zM570 66h8v1h-8zM582 66h1v1h-1zM584 66h1v1h-1zM587 66h1v1h-1zM594 66h1v1h-1zM608 66h6v1h-6zM546 67h1v1h-1zM553 67h1v1h-1zM557 67h2v1h-2zM562 67h1v1h-1zM570 67h8v1h-8zM582 67h1v1h-1zM584 67h1v1h-1zM587 67h1v1h-1zM593 67h1v1h-1zM595 67h6v1h-6zM605 67h1v1h-1zM608 67h1v1h-1zM613 67h1v1h-1zM547 68h1v1h-1zM552 68h1v1h-1zM559 68h7v1h-7zM581 68h2v1h-2zM584 68h7v1h-7zM593 68h8v1h-8zM606 68h1v1h-1zM608 68h6v1h-6zM559 69h1v1h-1zM562 69h1v1h-1zM569 69h10v1h-10zM581 69h2v1h-2zM584 69h1v1h-1zM545 70h10v1h-10zM559 70h1v1h-1zM562 70h1v1h-1zM570 70h8v1h-8zM582 70h1v1h-1zM584 70h1v1h-1zM588 70h1v1h-1zM594 70h2v1h-2zM597 70h1v1h-1zM608 70h7v1h-7zM557 71h10v1h-10zM570 71h3v1h-3zM575 71h1v1h-1zM577 71h1v1h-1zM582 71h1v1h-1zM584 71h1v1h-1zM588 71h1v1h-1zM596 71h2v1h-2zM601 71h1v1h-1zM606 71h1v1h-1zM608 71h1v1h-1zM610 71h1v1h-1zM612 71h1v1h-1zM614 71h1v1h-1zM562 72h1v1h-1zM570 72h1v1h-1zM576 72h1v1h-1zM582 72h1v1h-1zM584 72h3v1h-3zM588 72h1v1h-1zM596 72h3v1h-3zM601 72h2v1h-2zM605 72h2v1h-2zM608 72h1v1h-1zM610 72h1v1h-1zM612 72h1v1h-1zM614 72h1v1h-1zM562 73h1v1h-1zM569 73h4v1h-4zM575 73h3v1h-3zM582 73h1v1h-1zM589 73h2v1h-2zM594 73h2v1h-2zM599 73h1v1h-1zM601 73h2v1h-2zM605 73h1v1h-1zM607 73h8v1h-8zM562 74h1v1h-1zM573 74h2v1h-2zM578 74h1v1h-1zM582 74h1v1h-1zM584 74h5v1h-5zM590 74h1v1h-1zM602 74h1v1h-1z"/><path fill="#000" fill-opacity="0.6" shape-rendering="crispEdges" d="M587 64h1v1h-1zM582 65h1v1h-1zM588 65h1v1h-1zM602 65h1v1h-1zM605 65h1v1h-1zM549 66h2v1h-2zM553 66h1v1h-1zM547 67h1v1h-1zM549 67h2v1h-2zM552 67h1v1h-1zM588 67h1v1h-1zM594 67h1v1h-1zM601 67h1v1h-1zM609 67h1v1h-1zM549 68h2v1h-2zM557 68h1v1h-1zM601 68h1v1h-1zM547 69h1v1h-1zM549 69h2v1h-2zM552 69h1v1h-1zM568 69h1v1h-1zM579 69h2v1h-2zM587 69h2v1h-2zM598 69h1v1h-1zM600 69h2v1h-2zM544 70h1v1h-1zM555 70h1v1h-1zM578 70h1v1h-1zM598 70h1v1h-1zM600 70h2v1h-2zM549 71h2v1h-2zM567 71h1v1h-1zM573 71h1v1h-1zM587 71h1v1h-1zM600 71h1v1h-1zM549 72h2v1h-2zM572 72h2v1h-2zM575 72h1v1h-1zM577 72h1v1h-1zM590 72h1v1h-1zM595 72h1v1h-1zM549 73h2v1h-2zM573 73h1v1h-1zM578 73h1v1h-1zM584 73h1v1h-1zM598 73h1v1h-1zM615 73h1v1h-1zM549 74h2v1h-2zM572 74h1v1h-1zM575 74h1v1h-1zM589 74h1v1h-1zM593 74h2v1h-2zM601 74h1v1h-1z"/><path fill="#000" fill-opacity="0.3" shape-rendering="crispEdges" d="M559 63h1v1h-1zM558 64h1v1h-1zM586 64h1v1h-1zM594 64h1v1h-1zM589 65h1v1h-1zM607 65h1v1h-1zM546 66h1v1h-1zM583 66h1v1h-1zM585 66h1v1h-1zM588 66h1v1h-1zM606 66h2v1h-2zM581 67h1v1h-1zM585 67h1v1h-1zM606 67h1v1h-1zM546 68h1v1h-1zM558 68h1v1h-1zM566 68h1v1h-1zM605 68h1v1h-1zM558 69h1v1h-1zM585 69h1v1h-1zM606 69h1v1h-1zM558 70h1v1h-1zM569 70h1v1h-1zM580 70h1v1h-1zM585 70h1v1h-1zM587 70h1v1h-1zM596 70h1v1h-1zM606 70h1v1h-1zM556 71h1v1h-1zM569 71h1v1h-1zM574 71h1v1h-1zM585 71h2v1h-2zM595 71h1v1h-1zM607 71h1v1h-1zM611 71h1v1h-1zM613 71h1v1h-1zM569 72h1v1h-1zM583 72h1v1h-1zM587 72h1v1h-1zM589 72h1v1h-1zM591 72h1v1h-1zM600 72h1v1h-1zM603 72h1v1h-1zM611 72h1v1h-1zM613 72h1v1h-1zM583 73h1v1h-1zM588 73h1v1h-1zM591 73h1v1h-1zM593 73h1v1h-1zM604 73h1v1h-1zM577 74h1v1h-1z"/>
<line x1="516" y1="94.2" x2="542" y2="94.2" stroke="#FF0000" stroke-width="4" stroke-linecap="round"/>
<path fill="#000" fill-opacity="1.0" shape-rendering="crispEdges" d="M551 87h1v1h-1zM560 87h2v1h-2zM564 87h1v1h-1zM582 87h1v1h-1zM586 87h1v1h-1zM595 87h1v1h-1zM545 88h3v1h-3zM551 88h4v1h-4zM559 88h1v1h-1zM564 88h1v1h-1zM569 88h10v1h-10zM582 88h1v1h-1zM586 88h1v1h-1zM594 88h8v1h-8zM606 88h1v1h-1zM608 88h6v1h-6zM549 89h2v1h-2zM553 89h1v1h-1zM557 89h6v1h-6zM564 89h1v1h-1zM582 89h1v1h-1zM585 89h6v1h-6zM594 89h1v1h-1zM608 89h6v1h-6zM545 90h4v1h-4zM551 90h2v1h-2zM559 90h1v1h-1zM563 90h4v1h-4zM570 90h1v1h-1zM577 90h1v1h-1zM581 90h5v1h-5zM590 90h1v1h-1zM593 90h1v1h-1zM595 90h6v1h-6zM605 90h1v1h-1zM608 90h1v1h-1zM613 90h1v1h-1zM546 91h1v1h-1zM550 91h3v1h-3zM557 91h5v1h-5zM564 91h1v1h-1zM566 91h1v1h-1zM571 91h1v1h-1zM576 91h1v1h-1zM582 91h1v1h-1zM584 91h1v1h-1zM590 91h1v1h-1zM593 91h8v1h-8zM606 91h1v1h-1zM608 91h6v1h-6zM546 92h2v1h-2zM549 92h1v1h-1zM552 92h3v1h-3zM557 92h5v1h-5zM564 92h1v1h-1zM566 92h1v1h-1zM582 92h1v1h-1zM584 92h1v1h-1zM586 92h3v1h-3zM590 92h1v1h-1zM545 93h2v1h-2zM548 93h1v1h-1zM551 93h1v1h-1zM554 93h1v1h-1zM557 93h5v1h-5zM564 93h1v1h-1zM566 93h1v1h-1zM569 93h10v1h-10zM582 93h1v1h-1zM590 93h1v1h-1zM594 93h2v1h-2zM597 93h1v1h-1zM608 93h7v1h-7zM545 94h1v1h-1zM549 94h3v1h-3zM553 94h1v1h-1zM557 94h5v1h-5zM564 94h1v1h-1zM566 94h1v1h-1zM582 94h1v1h-1zM588 94h1v1h-1zM590 94h1v1h-1zM596 94h2v1h-2zM601 94h1v1h-1zM606 94h1v1h-1zM608 94h1v1h-1zM610 94h1v1h-1zM612 94h1v1h-1zM614 94h1v1h-1zM552 95h1v1h-1zM559 95h1v1h-1zM563 95h1v1h-1zM566 95h1v1h-1zM582 95h2v1h-2zM585 95h3v1h-3zM590 95h1v1h-1zM596 95h3v1h-3zM601 95h2v1h-2zM605 95h2v1h-2zM608 95h1v1h-1zM610 95h1v1h-1zM612 95h1v1h-1zM614 95h1v1h-1zM551 96h1v1h-1zM557 96h3v1h-3zM562 96h5v1h-5zM581 96h1v1h-1zM590 96h1v1h-1zM594 96h2v1h-2zM599 96h1v1h-1zM601 96h2v1h-2zM605 96h1v1h-1zM607 96h8v1h-8zM549 97h2v1h-2zM587 97h3v1h-3zM602 97h1v1h-1z"/><path fill="#000" fill-opacity="0.6" shape-rendering="crispEdges" d="M547 87h2v1h-2zM557 87h3v1h-3zM548 88h1v1h-1zM550 88h1v1h-1zM557 88h2v1h-2zM585 88h1v1h-1zM602 88h1v1h-1zM605 88h1v1h-1zM546 89h2v1h-2zM551 89h1v1h-1zM556 89h1v1h-1zM573 89h2v1h-2zM577 89h1v1h-1zM544 90h1v1h-1zM562 90h1v1h-1zM571 90h1v1h-1zM573 90h2v1h-2zM576 90h1v1h-1zM594 90h1v1h-1zM601 90h1v1h-1zM609 90h1v1h-1zM547 91h1v1h-1zM562 91h1v1h-1zM573 91h2v1h-2zM585 91h1v1h-1zM601 91h1v1h-1zM550 92h2v1h-2zM562 92h1v1h-1zM571 92h1v1h-1zM573 92h2v1h-2zM576 92h1v1h-1zM585 92h1v1h-1zM598 92h1v1h-1zM600 92h2v1h-2zM547 93h1v1h-1zM550 93h1v1h-1zM562 93h1v1h-1zM568 93h1v1h-1zM579 93h1v1h-1zM598 93h1v1h-1zM600 93h2v1h-2zM546 94h2v1h-2zM562 94h2v1h-2zM573 94h2v1h-2zM584 94h1v1h-1zM600 94h1v1h-1zM546 95h2v1h-2zM553 95h1v1h-1zM560 95h3v1h-3zM573 95h2v1h-2zM581 95h1v1h-1zM584 95h1v1h-1zM595 95h1v1h-1zM546 96h2v1h-2zM550 96h1v1h-1zM552 96h1v1h-1zM560 96h2v1h-2zM573 96h2v1h-2zM585 96h1v1h-1zM598 96h1v1h-1zM615 96h1v1h-1zM546 97h2v1h-2zM573 97h2v1h-2zM593 97h2v1h-2zM601 97h1v1h-1z"/><path fill="#000" fill-opacity="0.3" shape-rendering="crispEdges" d="M552 87h1v1h-1zM594 87h1v1h-1zM560 88h1v1h-1zM607 88h1v1h-1zM545 89h1v1h-1zM552 89h1v1h-1zM570 89h1v1h-1zM606 89h2v1h-2zM549 90h1v1h-1zM553 90h1v1h-1zM560 90h1v1h-1zM567 90h1v1h-1zM580 90h1v1h-1zM606 90h1v1h-1zM549 91h1v1h-1zM570 91h1v1h-1zM605 91h1v1h-1zM545 92h1v1h-1zM548 92h1v1h-1zM555 92h1v1h-1zM606 92h1v1h-1zM596 93h1v1h-1zM606 93h1v1h-1zM544 94h1v1h-1zM552 94h1v1h-1zM554 94h1v1h-1zM583 94h1v1h-1zM587 94h1v1h-1zM589 94h1v1h-1zM595 94h1v1h-1zM607 94h1v1h-1zM611 94h1v1h-1zM613 94h1v1h-1zM544 95h2v1h-2zM549 95h1v1h-1zM551 95h1v1h-1zM564 95h1v1h-1zM588 95h1v1h-1zM600 95h1v1h-1zM603 95h1v1h-1zM611 95h1v1h-1zM613 95h1v1h-1zM556 96h1v1h-1zM580 96h1v1h-1zM582 96h1v1h-1zM589 96h1v1h-1zM593 96h1v1h-1zM604 96h1v1h-1zM551 97h1v1h-1zM562 97h1v1h-1zM590 97h1v1h-1z"/>
<line x1="516" y1="116.6" x2="542" y2="116.6" stroke="#92D050" stroke-width="4" stroke-linecap="round"/>
<path fill="#000" fill-opacity="1.0" shape-rendering="crispEdges" d="M551 109h1v1h-1zM560 109h2v1h-2zM564 109h1v1h-1zM595 109h1v1h-1zM545 110h3v1h-3zM551 110h4v1h-4zM559 110h1v1h-1zM564 110h1v1h-1zM570 110h8v1h-8zM581 110h10v1h-10zM594 110h8v1h-8zM606 110h1v1h-1zM608 110h6v1h-6zM549 111h2v1h-2zM553 111h1v1h-1zM557 111h6v1h-6zM564 111h1v1h-1zM570 111h8v1h-8zM594 111h1v1h-1zM608 111h6v1h-6zM545 112h4v1h-4zM551 112h2v1h-2zM559 112h1v1h-1zM563 112h4v1h-4zM570 112h8v1h-8zM583 112h6v1h-6zM593 112h1v1h-1zM595 112h6v1h-6zM605 112h1v1h-1zM608 112h1v1h-1zM613 112h1v1h-1zM546 113h1v1h-1zM550 113h3v1h-3zM557 113h5v1h-5zM564 113h1v1h-1zM566 113h1v1h-1zM583 113h6v1h-6zM593 113h8v1h-8zM606 113h1v1h-1zM608 113h6v1h-6zM546 114h2v1h-2zM549 114h1v1h-1zM552 114h3v1h-3zM557 114h5v1h-5zM564 114h1v1h-1zM566 114h1v1h-1zM569 114h10v1h-10zM545 115h2v1h-2zM548 115h1v1h-1zM551 115h1v1h-1zM554 115h1v1h-1zM557 115h5v1h-5zM564 115h1v1h-1zM566 115h1v1h-1zM570 115h8v1h-8zM581 115h10v1h-10zM594 115h2v1h-2zM597 115h1v1h-1zM608 115h7v1h-7zM545 116h1v1h-1zM549 116h3v1h-3zM553 116h1v1h-1zM557 116h5v1h-5zM564 116h1v1h-1zM566 116h1v1h-1zM570 116h3v1h-3zM575 116h1v1h-1zM577 116h1v1h-1zM581 116h1v1h-1zM584 116h4v1h-4zM590 116h1v1h-1zM596 116h2v1h-2zM601 116h1v1h-1zM606 116h1v1h-1zM608 116h1v1h-1zM610 116h1v1h-1zM612 116h1v1h-1zM614 116h1v1h-1zM552 117h1v1h-1zM559 117h1v1h-1zM563 117h1v1h-1zM566 117h1v1h-1zM570 117h1v1h-1zM576 117h1v1h-1zM581 117h1v1h-1zM584 117h4v1h-4zM590 117h1v1h-1zM596 117h3v1h-3zM601 117h2v1h-2zM605 117h2v1h-2zM608 117h1v1h-1zM610 117h1v1h-1zM612 117h1v1h-1zM614 117h1v1h-1zM551 118h1v1h-1zM557 118h3v1h-3zM562 118h5v1h-5zM569 118h4v1h-4zM575 118h3v1h-3zM581 118h1v1h-1zM590 118h1v1h-1zM594 118h2v1h-2zM599 118h1v1h-1zM601 118h2v1h-2zM605 118h1v1h-1zM607 118h8v1h-8zM549 119h2v1h-2zM573 119h2v1h-2zM578 119h1v1h-1zM581 119h1v1h-1zM588 119h2v1h-2zM602 119h1v1h-1z"/><path fill="#000" fill-opacity="0.6" shape-rendering="crispEdges" d="M547 109h2v1h-2zM557 109h3v1h-3zM585 109h2v1h-2zM548 110h1v1h-1zM550 110h1v1h-1zM557 110h2v1h-2zM602 110h1v1h-1zM605 110h1v1h-1zM546 111h2v1h-2zM551 111h1v1h-1zM556 111h1v1h-1zM544 112h1v1h-1zM562 112h1v1h-1zM594 112h1v1h-1zM601 112h1v1h-1zM609 112h1v1h-1zM547 113h1v1h-1zM562 113h1v1h-1zM601 113h1v1h-1zM550 114h2v1h-2zM562 114h1v1h-1zM568 114h1v1h-1zM579 114h1v1h-1zM598 114h1v1h-1zM600 114h2v1h-2zM547 115h1v1h-1zM550 115h1v1h-1zM562 115h1v1h-1zM578 115h1v1h-1zM598 115h1v1h-1zM600 115h2v1h-2zM546 116h2v1h-2zM562 116h2v1h-2zM573 116h1v1h-1zM583 116h1v1h-1zM588 116h1v1h-1zM600 116h1v1h-1zM546 117h2v1h-2zM553 117h1v1h-1zM560 117h3v1h-3zM572 117h2v1h-2zM575 117h1v1h-1zM577 117h1v1h-1zM583 117h1v1h-1zM588 117h1v1h-1zM595 117h1v1h-1zM546 118h2v1h-2zM550 118h1v1h-1zM552 118h1v1h-1zM560 118h2v1h-2zM573 118h1v1h-1zM578 118h1v1h-1zM583 118h2v1h-2zM598 118h1v1h-1zM615 118h1v1h-1zM546 119h2v1h-2zM572 119h1v1h-1zM575 119h1v1h-1zM590 119h1v1h-1zM593 119h2v1h-2zM601 119h1v1h-1z"/><path fill="#000" fill-opacity="0.3" shape-rendering="crispEdges" d="M552 109h1v1h-1zM594 109h1v1h-1zM560 110h1v1h-1zM607 110h1v1h-1zM545 111h1v1h-1zM552 111h1v1h-1zM606 111h2v1h-2zM549 112h1v1h-1zM553 112h1v1h-1zM560 112h1v1h-1zM567 112h1v1h-1zM582 112h1v1h-1zM589 112h1v1h-1zM606 112h1v1h-1zM549 113h1v1h-1zM582 113h1v1h-1zM589 113h1v1h-1zM605 113h1v1h-1zM545 114h1v1h-1zM548 114h1v1h-1zM555 114h1v1h-1zM606 114h1v1h-1zM569 115h1v1h-1zM596 115h1v1h-1zM606 115h1v1h-1zM544 116h1v1h-1zM552 116h1v1h-1zM554 116h1v1h-1zM569 116h1v1h-1zM574 116h1v1h-1zM582 116h1v1h-1zM589 116h1v1h-1zM595 116h1v1h-1zM607 116h1v1h-1zM611 116h1v1h-1zM613 116h1v1h-1zM544 117h2v1h-2zM549 117h1v1h-1zM551 117h1v1h-1zM564 117h1v1h-1zM569 117h1v1h-1zM582 117h1v1h-1zM589 117h1v1h-1zM600 117h1v1h-1zM603 117h1v1h-1zM611 117h1v1h-1zM613 117h1v1h-1zM556 118h1v1h-1zM582 118h1v1h-1zM588 118h2v1h-2zM593 118h1v1h-1zM604 118h1v1h-1zM551 119h1v1h-1zM562 119h1v1h-1zM577 119h1v1h-1zM582 119h1v1h-1z"/>
<line x1="516" y1="139.0" x2="542" y2="139.0" stroke="#00B0F0" stroke-width="4" stroke-linecap="round"/>
<path fill="#000" fill-opacity="1.0" shape-rendering="crispEdges" d="M551 132h1v1h-1zM560 132h2v1h-2zM564 132h1v1h-1zM583 132h1v1h-1zM588 132h2v1h-2zM595 132h1v1h-1zM545 133h3v1h-3zM551 133h4v1h-4zM559 133h1v1h-1zM564 133h1v1h-1zM570 133h8v1h-8zM583 133h5v1h-5zM594 133h8v1h-8zM606 133h1v1h-1zM608 133h6v1h-6zM549 134h2v1h-2zM553 134h1v1h-1zM557 134h6v1h-6zM564 134h1v1h-1zM570 134h8v1h-8zM582 134h1v1h-1zM584 134h1v1h-1zM587 134h1v1h-1zM594 134h1v1h-1zM608 134h6v1h-6zM545 135h4v1h-4zM551 135h2v1h-2zM559 135h1v1h-1zM563 135h4v1h-4zM570 135h8v1h-8zM582 135h1v1h-1zM584 135h1v1h-1zM587 135h1v1h-1zM593 135h1v1h-1zM595 135h6v1h-6zM605 135h1v1h-1zM608 135h1v1h-1zM613 135h1v1h-1zM546 136h1v1h-1zM550 136h3v1h-3zM557 136h5v1h-5zM564 136h1v1h-1zM566 136h1v1h-1zM581 136h2v1h-2zM584 136h7v1h-7zM593 136h8v1h-8zM606 136h1v1h-1zM608 136h6v1h-6zM546 137h2v1h-2zM549 137h1v1h-1zM552 137h3v1h-3zM557 137h5v1h-5zM564 137h1v1h-1zM566 137h1v1h-1zM569 137h10v1h-10zM581 137h2v1h-2zM584 137h1v1h-1zM545 138h2v1h-2zM548 138h1v1h-1zM551 138h1v1h-1zM554 138h1v1h-1zM557 138h5v1h-5zM564 138h1v1h-1zM566 138h1v1h-1zM570 138h8v1h-8zM582 138h1v1h-1zM584 138h1v1h-1zM588 138h1v1h-1zM594 138h2v1h-2zM597 138h1v1h-1zM608 138h7v1h-7zM545 139h1v1h-1zM549 139h3v1h-3zM553 139h1v1h-1zM557 139h5v1h-5zM564 139h1v1h-1zM566 139h1v1h-1zM570 139h3v1h-3zM575 139h1v1h-1zM577 139h1v1h-1zM582 139h1v1h-1zM584 139h1v1h-1zM588 139h1v1h-1zM596 139h2v1h-2zM601 139h1v1h-1zM606 139h1v1h-1zM608 139h1v1h-1zM610 139h1v1h-1zM612 139h1v1h-1zM614 139h1v1h-1zM552 140h1v1h-1zM559 140h1v1h-1zM563 140h1v1h-1zM566 140h1v1h-1zM570 140h1v1h-1zM576 140h1v1h-1zM582 140h1v1h-1zM584 140h3v1h-3zM588 140h1v1h-1zM596 140h3v1h-3zM601 140h2v1h-2zM605 140h2v1h-2zM608 140h1v1h-1zM610 140h1v1h-1zM612 140h1v1h-1zM614 140h1v1h-1zM551 141h1v1h-1zM557 141h3v1h-3zM562 141h5v1h-5zM569 141h4v1h-4zM575 141h3v1h-3zM582 141h1v1h-1zM589 141h2v1h-2zM594 141h2v1h-2zM599 141h1v1h-1zM601 141h2v1h-2zM605 141h1v1h-1zM607 141h8v1h-8zM549 142h2v1h-2zM573 142h2v1h-2zM578 142h1v1h-1zM582 142h1v1h-1zM584 142h5v1h-5zM590 142h1v1h-1zM602 142h1v1h-1z"/><path fill="#000" fill-opacity="0.6" shape-rendering="crispEdges" d="M547 132h2v1h-2zM557 132h3v1h-3zM587 132h1v1h-1zM548 133h1v1h-1zM550 133h1v1h-1zM557 133h2v1h-2zM582 133h1v1h-1zM588 133h1v1h-1zM602 133h1v1h-1zM605 133h1v1h-1zM546 134h2v1h-2zM551 134h1v1h-1zM556 134h1v1h-1zM544 135h1v1h-1zM562 135h1v1h-1zM588 135h1v1h-1zM594 135h1v1h-1zM601 135h1v1h-1zM609 135h1v1h-1zM547 136h1v1h-1zM562 136h1v1h-1zM601 136h1v1h-1zM550 137h2v1h-2zM562 137h1v1h-1zM568 137h1v1h-1zM579 137h2v1h-2zM587 137h2v1h-2zM598 137h1v1h-1zM600 137h2v1h-2zM547 138h1v1h-1zM550 138h1v1h-1zM562 138h1v1h-1zM578 138h1v1h-1zM598 138h1v1h-1zM600 138h2v1h-2zM546 139h2v1h-2zM562 139h2v1h-2zM573 139h1v1h-1zM587 139h1v1h-1zM600 139h1v1h-1zM546 140h2v1h-2zM553 140h1v1h-1zM560 140h3v1h-3zM572 140h2v1h-2zM575 140h1v1h-1zM577 140h1v1h-1zM590 140h1v1h-1zM595 140h1v1h-1zM546 141h2v1h-2zM550 141h1v1h-1zM552 141h1v1h-1zM560 141h2v1h-2zM573 141h1v1h-1zM578 141h1v1h-1zM584 141h1v1h-1zM598 141h1v1h-1zM615 141h1v1h-1zM546 142h2v1h-2zM572 142h1v1h-1zM575 142h1v1h-1zM589 142h1v1h-1zM593 142h2v1h-2zM601 142h1v1h-1z"/><path fill="#000" fill-opacity="0.3" shape-rendering="crispEdges" d="M552 132h1v1h-1zM586 132h1v1h-1zM594 132h1v1h-1zM560 133h1v1h-1zM589 133h1v1h-1zM607 133h1v1h-1zM545 134h1v1h-1zM552 134h1v1h-1zM583 134h1v1h-1zM585 134h1v1h-1zM588 134h1v1h-1zM606 134h2v1h-2zM549 135h1v1h-1zM553 135h1v1h-1zM560 135h1v1h-1zM567 135h1v1h-1zM581 135h1v1h-1zM585 135h1v1h-1zM606 135h1v1h-1zM549 136h1v1h-1zM605 136h1v1h-1zM545 137h1v1h-1zM548 137h1v1h-1zM555 137h1v1h-1zM585 137h1v1h-1zM606 137h1v1h-1zM569 138h1v1h-1zM580 138h1v1h-1zM585 138h1v1h-1zM587 138h1v1h-1zM596 138h1v1h-1zM606 138h1v1h-1zM544 139h1v1h-1zM552 139h1v1h-1zM554 139h1v1h-1zM569 139h1v1h-1zM574 139h1v1h-1zM585 139h2v1h-2zM595 139h1v1h-1zM607 139h1v1h-1zM611 139h1v1h-1zM613 139h1v1h-1zM544 140h2v1h-2zM549 140h1v1h-1zM551 140h1v1h-1zM564 140h1v1h-1zM569 140h1v1h-1zM583 140h1v1h-1zM587 140h1v1h-1zM589 140h1v1h-1zM591 140h1v1h-1zM600 140h1v1h-1zM603 140h1v1h-1zM611 140h1v1h-1zM613 140h1v1h-1zM556 141h1v1h-1zM583 141h1v1h-1zM588 141h1v1h-1zM591 141h1v1h-1zM593 141h1v1h-1zM604 141h1v1h-1zM551 142h1v1h-1zM562 142h1v1h-1zM577 142h1v1h-1z"/>
</svg>
</body></html>
